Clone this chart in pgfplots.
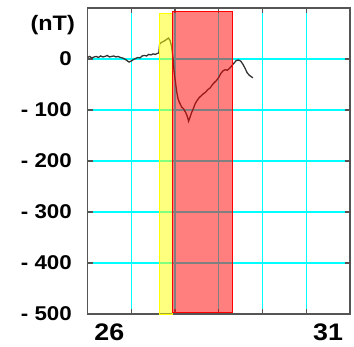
\documentclass[border=0pt]{standalone}
\usepackage{fontspec}
\setmainfont[FakeStretch=1.12]{Liberation Sans}
\usepackage{pgfplots}
\pgfplotsset{compat=1.18}
\definecolor{frame}{RGB}{85,85,85}
\definecolor{gridc}{RGB}{0,255,255}
\definecolor{yel}{RGB}{255,255,0}
\definecolor{rd}{RGB}{255,0,0}
\begin{document}
\begin{tikzpicture}
\useasboundingbox (0,0) rectangle (354bp,347bp);
\begin{axis}[
  at={(87.5bp,33bp)}, anchor=south west,
  scale only axis, width=262.5bp, height=306bp,
  xmin=0, xmax=6, ymin=-500, ymax=100,
  axis line style={draw=frame, line width=1.5bp},
  major tick length=5bp,
  tick align=inside,
  xtick={1,2,3,4,5}, xticklabels={},
  ytick={-500,-400,-300,-200,-100,0},
  yticklabels={\textbf{- 500},\textbf{- 400},\textbf{- 300},\textbf{- 200},\textbf{- 100},\textbf{0}},
  yticklabel style={anchor=east, inner sep=0pt, xshift=-15.5bp, font=\fontsize{20}{20}\selectfont\bfseries},
  xmajorgrids, ymajorgrids,
  every major grid/.style={draw=gridc, line width=1.4bp},
  every major tick/.style={draw=frame, line width=1.2bp},
  clip=false,
]
\addplot[black!80, line width=1.3bp] coordinates {
(0.00,3) (0.05,5) (0.10,2) (0.15,4) (0.20,5) (0.25,3) (0.30,6) (0.35,4) (0.40,5)
(0.45,7) (0.50,4) (0.55,5) (0.60,6) (0.65,4) (0.70,5) (0.75,3) (0.80,2) (0.85,0)
(0.90,-3) (0.95,-6) (1.00,-4) (1.05,-1) (1.10,1) (1.15,3) (1.20,2) (1.25,6)
(1.30,7) (1.35,6) (1.40,9) (1.45,8) (1.50,10) (1.55,9) (1.60,11) (1.63,12)
(1.65,30) (1.70,33) (1.75,35) (1.80,38) (1.85,41) (1.89,36) (1.92,25) (1.95,5)
(1.98,-25) (2.01,-45) (2.04,-65) (2.07,-78) (2.10,-85) (2.15,-94) (2.20,-98)
(2.25,-106) (2.28,-112) (2.31,-122) (2.34,-115) (2.38,-105) (2.42,-97) (2.46,-88)
(2.50,-82) (2.55,-76) (2.60,-72) (2.65,-68) (2.70,-65) (2.75,-60) (2.80,-57)
(2.85,-51) (2.90,-46) (2.95,-42) (3.00,-36) (3.05,-28) (3.10,-23) (3.15,-21)
(3.20,-22) (3.25,-18) (3.30,-13) (3.35,-8) (3.40,-3) (3.45,-2) (3.50,-4)
(3.55,-10) (3.60,-18) (3.65,-27) (3.70,-32) (3.75,-35) (3.78,-37)
};
\addplot[draw=yel, fill=yel, fill opacity=0.5, line width=0.8bp] coordinates {
(1.64,-500) (1.64,90) (1.94,90) (1.94,-500)} -- cycle;
\addplot[draw=rd, fill=rd, fill opacity=0.5, line width=0.8bp] coordinates {
(1.94,-496) (1.94,94) (3.31,94) (3.31,-496)} -- cycle;
\node[anchor=base east, inner sep=0pt, font=\fontsize{21}{21}\selectfont\bfseries]
  at (axis cs:0,56) [xshift=-12.5bp] {(nT)};
\node[anchor=north, inner sep=0pt, font=\fontsize{24}{24}\selectfont\bfseries]
  at (axis cs:0.5,-500) [yshift=-10bp] {26};
\node[anchor=north, inner sep=0pt, font=\fontsize{24}{24}\selectfont\bfseries]
  at (axis cs:5.5,-500) [yshift=-10bp] {31};
\end{axis}
\end{tikzpicture}
\end{document}
